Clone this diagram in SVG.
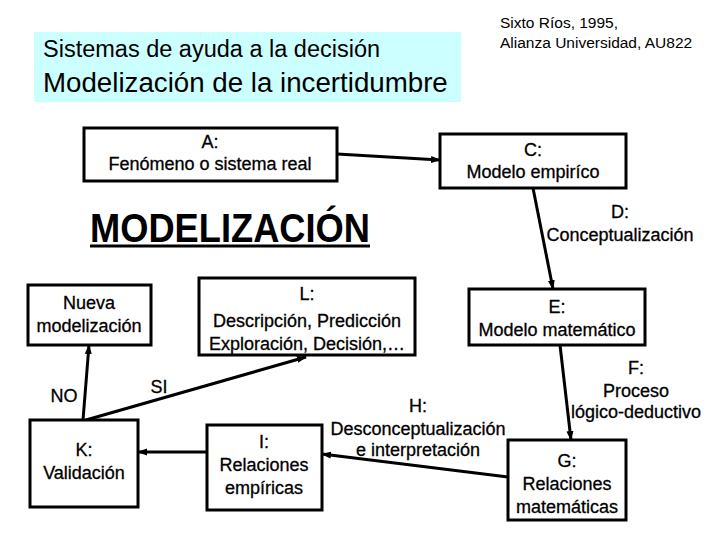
<svg xmlns="http://www.w3.org/2000/svg" width="720" height="540" viewBox="0 0 720 540">
<defs>
<marker id="ah" markerUnits="userSpaceOnUse" markerWidth="10" markerHeight="10" viewBox="0 0 10 10" refX="9" refY="5" orient="auto">
<path d="M0,1.5 L10,5 L0,8.5 z" fill="#000"/>
</marker>
<style>
.box{fill:#fff;stroke:#000;stroke-width:3}
.t{font-family:"Liberation Sans",Arial,sans-serif;font-size:18px;fill:#000;text-anchor:middle;stroke:#000;stroke-width:0.3}
.c{stroke:#000;stroke-width:3;fill:none;marker-end:url(#ah)}
.h{font-family:"Liberation Sans",Arial,sans-serif;fill:#000}
</style>
</defs>
<rect width="720" height="540" fill="#fff"/>
<g id="header">
<rect x="34" y="32" width="427" height="70" fill="#ccffff"/>
<text class="h" x="43" y="57" font-size="23.5">Sistemas de ayuda a la decisión</text>
<text class="h" x="43" y="92" font-size="27.7">Modelización de la incertidumbre</text>
<text class="h" x="500" y="28" font-size="15.5">Sixto Ríos, 1995,</text>
<text class="h" x="500" y="48" font-size="15.5">Alianza Universidad, AU822</text>
</g>
<g id="title">
<text class="h" x="90" y="242" font-size="40" font-weight="bold" textLength="280" lengthAdjust="spacingAndGlyphs">MODELIZACIÓN</text>
<line x1="90" y1="246" x2="370" y2="246" stroke="#000" stroke-width="3"/>
</g>
<g id="connectors">
<line class="c" x1="337" y1="154" x2="440" y2="160"/>
<line class="c" x1="533" y1="188" x2="553" y2="289"/>
<line class="c" x1="560" y1="345" x2="571" y2="440"/>
<line class="c" x1="508" y1="477" x2="322" y2="454"/>
<line class="c" x1="207" y1="452" x2="138" y2="452"/>
<line class="c" x1="83" y1="420" x2="89" y2="345"/>
<line class="c" x1="86" y1="420" x2="306" y2="357"/>
</g>
<g id="A">
<rect class="box" x="84" y="128" width="253" height="53"/>
<text class="t" x="210" y="148">A:</text>
<text class="t" x="210" y="170">Fenómeno o sistema real</text>
</g>
<g id="C">
<rect class="box" x="440" y="134" width="186" height="54"/>
<text class="t" x="533" y="156">C:</text>
<text class="t" x="533" y="178">Modelo empiríco</text>
</g>
<g id="D">
<text class="t" x="620" y="218">D:</text>
<text class="t" x="620" y="241">Conceptualización</text>
</g>
<g id="E">
<rect class="box" x="469" y="289" width="176" height="56"/>
<text class="t" x="557" y="313">E:</text>
<text class="t" x="557" y="336">Modelo matemático</text>
</g>
<g id="F">
<text class="t" x="636" y="374">F:</text>
<text class="t" x="636" y="397">Proceso</text>
<text class="t" x="636" y="418">lógico-deductivo</text>
</g>
<g id="G">
<rect class="box" x="508" y="440" width="118" height="80"/>
<text class="t" x="567" y="467">G:</text>
<text class="t" x="567" y="490">Relaciones</text>
<text class="t" x="567" y="513">matemáticas</text>
</g>
<g id="H">
<text class="t" x="418" y="412">H:</text>
<text class="t" x="418" y="435">Desconceptualización</text>
<text class="t" x="418" y="456">e interpretación</text>
</g>
<g id="I">
<rect class="box" x="207" y="425" width="115" height="85"/>
<text class="t" x="264" y="448">I:</text>
<text class="t" x="264" y="471">Relaciones</text>
<text class="t" x="264" y="494">empíricas</text>
</g>
<g id="K">
<rect class="box" x="30" y="420" width="108" height="87"/>
<text class="t" x="84" y="456">K:</text>
<text class="t" x="84" y="479">Validación</text>
</g>
<g id="Nueva">
<rect class="box" x="28" y="285" width="123" height="60"/>
<text class="t" x="89" y="309">Nueva</text>
<text class="t" x="89" y="332">modelización</text>
</g>
<g id="L">
<rect class="box" x="199" y="278" width="216" height="77"/>
<text class="t" x="307" y="300">L:</text>
<text class="t" x="307" y="327">Descripción, Predicción</text>
<text class="t" x="307" y="350">Exploración, Decisión,…</text>
</g>
<g id="labels">
<text class="t" x="64" y="402">NO</text>
<text class="t" x="159" y="393">SI</text>
</g>
</svg>
